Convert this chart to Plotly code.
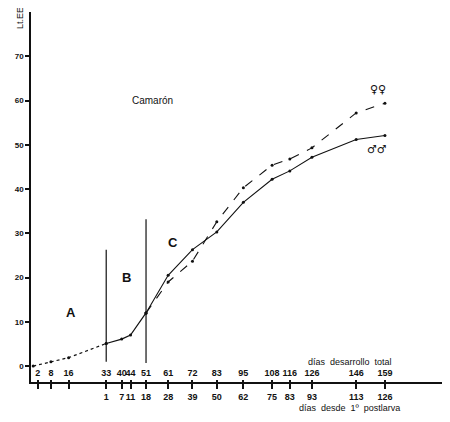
import plotly.graph_objects as go

INK = "#111111"
FONT = "Liberation Sans"
NARROW = "Liberation Sans Narrow, Liberation Sans"

# dotted early segment (larval stages)
dias_larva = [0, 8, 16, 33]
lt_larva = [0.0, 1.0, 1.9, 5.1]

# shared solid segment
dias_comun = [33, 40, 44, 51]
lt_comun = [5.1, 6.1, 7.0, 12.0]

# after split
dias_sexos = [51, 61, 72, 83, 95, 108, 116, 126, 146, 159]
lt_hembras = [12.0, 19.0, 23.7, 32.6, 40.3, 45.4, 46.8, 49.3, 57.2, 59.4]
lt_machos = [12.0, 20.5, 26.3, 30.3, 37.0, 42.2, 44.1, 47.2, 51.2, 52.1]

# axis ticks
tick_total = [2, 8, 16, 33, 40, 44, 51, 61, 72, 83, 95, 108, 116, 126, 146, 159]
tick_postlarva = ["", "", "", "1", "7", "11", "18", "28", "39", "50", "62", "75", "83", "93", "113", "126"]
y_ticks = [0, 10, 20, 30, 40, 50, 60, 70]

# stage separators (day, bottom, top)
separadores = [(33, 1.0, 26.3), (51, 0.7, 33.2)]
etapas = [("A", 17, 12), ("B", 42, 20), ("C", 63, 28)]

fig = go.Figure()

fig.add_trace(go.Scatter(
    x=dias_larva, y=lt_larva, mode="lines+markers",
    line={"color": INK, "width": 1.2, "dash": "dot"},
    marker={"color": INK, "size": 3},
    showlegend=False, hoverinfo="skip",
))
fig.add_trace(go.Scatter(
    x=dias_comun, y=lt_comun, mode="lines+markers",
    line={"color": INK, "width": 1.2},
    marker={"color": INK, "size": 3},
    showlegend=False, hoverinfo="skip",
))
fig.add_trace(go.Scatter(
    x=dias_sexos, y=lt_hembras, mode="lines+markers", name="♀♀",
    line={"color": INK, "width": 1.1, "dash": "dash"},
    marker={"color": INK, "size": 3},
    showlegend=False,
))
fig.add_trace(go.Scatter(
    x=dias_sexos, y=lt_machos, mode="lines+markers", name="♂♂",
    line={"color": INK, "width": 1.1},
    marker={"color": INK, "size": 3},
    showlegend=False,
))

for d, y0, y1 in separadores:
    fig.add_shape(type="line", x0=d, x1=d, y0=y0, y1=y1,
                  line={"color": INK, "width": 1.2})

for txt, x, y in etapas:
    fig.add_annotation(x=x, y=y, text=f"<b>{txt}</b>", showarrow=False,
                       font={"size": 13, "color": INK, "family": FONT})

fig.add_annotation(x=54, y=60, text="Camarón", showarrow=False,
                   font={"size": 10, "color": INK, "family": FONT})
fig.add_annotation(x=156, y=62.5, text="♀♀", showarrow=False,
                   font={"size": 11, "color": INK, "family": "DejaVu Sans"})
fig.add_annotation(x=155.5, y=49, text="<i>♂♂</i>", showarrow=False,
                   font={"size": 11, "color": INK, "family": "DejaVu Sans"})

fig.add_annotation(xref="paper", yref="paper", x=-0.028, y=1.02, xanchor="center",
                   yanchor="top", text="Lt.EE", textangle=-90, showarrow=False,
                   font={"size": 9, "color": INK, "family": FONT})
fig.add_annotation(x=143, xref="x", yref="paper", y=0.055, yanchor="middle",
                   text="días  desarrollo  total", showarrow=False,
                   font={"size": 9, "color": INK, "family": FONT})
fig.add_annotation(x=143, xref="x", yref="paper", y=-0.07, yanchor="middle",
                   text="días  desde  1º  postlarva", showarrow=False,
                   font={"size": 9, "color": INK, "family": FONT})

xr = [-1.0, 184.8]
tick_font = {"size": 9, "weight": "bold", "family": NARROW}
# the page body adds 8px around the figure, so the figure is sized to 442x414
fig.update_layout(
    width=442, height=414,
    margin={"l": 23, "r": 8, "t": 4, "b": 40},
    plot_bgcolor="#FFFFFF", paper_bgcolor="#FFFFFF",
    font={"family": FONT, "color": INK},
    xaxis={
        "range": xr, "showgrid": False, "zeroline": False, "automargin": False,
        "showline": True, "linecolor": INK, "linewidth": 1.5,
        "tickvals": tick_total, "ticktext": tick_postlarva, "tickangle": 0,
        "ticks": "outside", "ticklen": 5, "tickcolor": INK, "tickwidth": 1.5,
        "tickfont": tick_font,
    },
    xaxis2={
        "range": xr, "overlaying": "x", "side": "top", "anchor": "free",
        "position": 0, "showgrid": False, "zeroline": False, "showline": False,
        "automargin": False, "tickangle": 0,
        "tickvals": tick_total, "ticktext": [str(v) for v in tick_total],
        "ticks": "outside", "ticklen": 2, "tickcolor": INK, "tickwidth": 1.5,
        "tickfont": tick_font,
    },
    yaxis={
        "range": [-3.6, 80], "showgrid": False, "zeroline": False, "automargin": False,
        "showline": True, "linecolor": INK, "linewidth": 1.5,
        "tickvals": y_ticks, "ticks": "outside", "ticklen": 4,
        "tickcolor": INK, "tickwidth": 1.5,
        "tickfont": {"size": 8, "weight": "bold", "family": FONT},
    },
)
# dummy trace so the top tick axis is drawn
fig.add_trace(go.Scatter(x=[None], y=[None], xaxis="x2", showlegend=False, hoverinfo="skip"))

fig.write_html("out.html")
